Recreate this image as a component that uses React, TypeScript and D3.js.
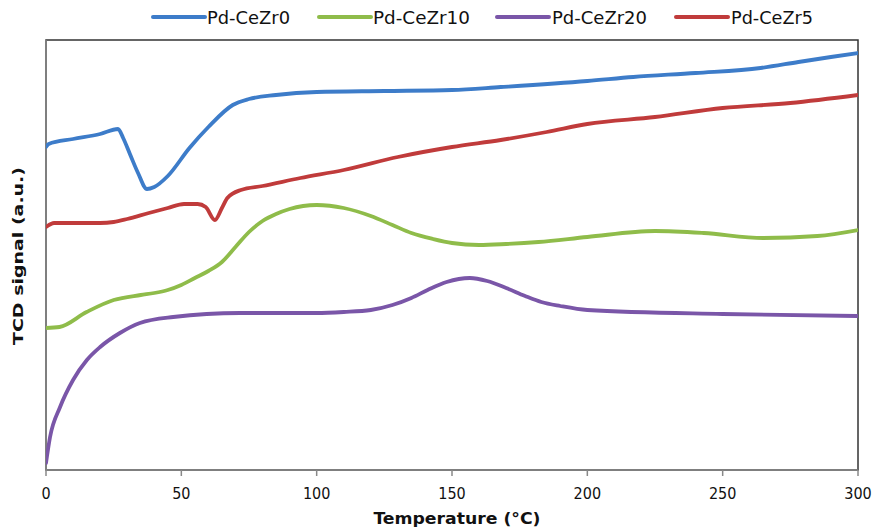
import React from "react";
import * as d3 from "d3";

const seriesNames = ["Pd-CeZr0", "Pd-CeZr10", "Pd-CeZr20", "Pd-CeZr5"];
const seriesColors = ["#3d7cc9", "#8fbc4a", "#7a56a8", "#c03b3b"];

const tempCeZr0 = [0, 1, 10, 20, 26.6, 28.5, 31, 34, 37.3, 40, 45, 53, 60, 69, 75, 85, 100, 125, 150, 168, 200, 217, 240, 264, 278, 290, 300];
const sigCeZr0 = [323, 326, 331, 336, 341, 332, 316, 297, 281, 283, 294, 322, 343, 365, 371, 375, 378, 379, 380, 383, 389, 393, 397, 402, 408, 413, 417];

const tempCeZr10 = [0, 5, 15, 25, 35, 40, 45, 50, 55, 60, 65, 70, 75, 80, 85, 90, 100, 110, 120, 128, 135, 143, 150, 160, 170, 182, 200, 225, 243, 265, 285, 300];
const sigCeZr10 = [142, 143, 158, 170, 175, 177, 180, 185, 192, 199, 208, 223, 238, 249, 256, 261, 265, 262, 254, 245, 237, 231, 227, 225, 226, 228, 233, 239, 237, 232, 234, 240];

const tempCeZr20 = [0, 1.5, 5.2, 10, 15.1, 20, 27.3, 34.7, 47, 71.7, 100, 110, 120, 128, 135, 141, 148, 156.6, 163, 170, 177, 183, 190, 200, 250, 300];
const sigCeZr20 = [7, 33, 63, 90, 110, 123, 137, 147, 153, 157, 157, 158, 160, 165, 172, 180, 188, 192, 189, 182, 174, 168, 164, 160, 156, 154];

const tempCeZr5 = [0, 3, 10, 20, 25, 30, 38, 45, 51, 56, 59, 62.4, 65, 67, 72, 80, 94, 110, 130, 150, 168, 185, 200, 225, 250, 275, 300];
const sigCeZr5 = [243, 247, 247, 247, 248, 251, 257, 262, 266, 266, 263, 250, 262, 272, 280, 284, 292, 300, 313, 323, 330, 338, 346, 353, 362, 367, 375];

const xTicks = [0, 50, 100, 150, 200, 250, 300];

const series = [
  { name: seriesNames[0], color: seriesColors[0], t: tempCeZr0, v: sigCeZr0 },
  { name: seriesNames[1], color: seriesColors[1], t: tempCeZr10, v: sigCeZr10 },
  { name: seriesNames[2], color: seriesColors[2], t: tempCeZr20, v: sigCeZr20 },
  { name: seriesNames[3], color: seriesColors[3], t: tempCeZr5, v: sigCeZr5 },
];

const W = 877, H = 529;
const L = 46, R = 858, T = 40, B = 470;

export default function App() {
  const x = d3.scaleLinear().domain([0, 300]).range([L, R]);
  const y = d3.scaleLinear().domain([0, 430]).range([B, T]);
  const line = d3
    .line<[number, number]>()
    .x((d) => x(d[0]))
    .y((d) => y(d[1]))
    .curve(d3.curveMonotoneX);
  const font = "'DejaVu Sans Condensed', 'DejaVu Sans', sans-serif";
  const legendX = [153, 319, 497, 676];
  const legendTextX = [207, 373, 552, 731];
  const legendTextW = [83, 97, 95, 82];
  return (
    <div style={{ position: "absolute", left: 0, top: 0 }}>
      <svg width={W} height={H} style={{ display: "block", background: "#fff" }}>
        <defs>
          <clipPath id="plotclip">
            <rect x={L} y={T} width={R - L} height={B - T} />
          </clipPath>
        </defs>
        <rect x={L} y={T} width={R - L} height={B - T} fill="none" stroke="#333" strokeWidth={1.5} />
        <line x1={L} x2={L} y1={T} y2={B} stroke="#888" strokeWidth={1.5} />
        <line x1={L} x2={R} y1={B} y2={B} stroke="#888" strokeWidth={1.5} />
        {xTicks.map((t) => (
          <g key={t}>
            <line x1={x(t)} x2={x(t)} y1={B} y2={B + 6} stroke="#888" strokeWidth={1.5} />
            <text x={x(t)} y={B + 29} textAnchor="middle" fontFamily={font} fontSize={16} fill="#111">
              {t}
            </text>
          </g>
        ))}
        <g clipPath="url(#plotclip)">
          {series.map((s) => (
            <path
              key={s.name}
              d={line(s.t.map((t, i) => [t, s.v[i]] as [number, number])) || ""}
              fill="none"
              stroke={s.color}
              strokeWidth={3.8}
              strokeLinejoin="round"
              strokeLinecap="round"
            />
          ))}
        </g>
        {series.map((s, i) => (
          <g key={"lg" + s.name}>
            <line x1={legendX[i]} x2={legendX[i] + 52} y1={17} y2={17} stroke={s.color} strokeWidth={4} strokeLinecap="round" />
            <text
              x={legendTextX[i]}
              y={24}
              fontFamily={font}
              fontSize={18}
              fill="#111"
              textLength={legendTextW[i]}
              lengthAdjust="spacingAndGlyphs"
            >
              {s.name}
            </text>
          </g>
        ))}
        <text
          x={(L + R) / 2 + 5}
          y={524}
          textAnchor="middle"
          fontFamily={font}
          fontWeight="bold"
          fontSize={16}
          fill="#111"
          textLength={167}
          lengthAdjust="spacingAndGlyphs"
        >
          Temperature (°C)
        </text>
        <text
          transform={`translate(23, 256) rotate(-90)`}
          textAnchor="middle"
          fontFamily="'DejaVu Sans', sans-serif"
          fontWeight="bold"
          fontSize={14}
          fill="#111"
          textLength={178}
          lengthAdjust="spacingAndGlyphs"
        >
          TCD signal (a.u.)
        </text>
      </svg>
    </div>
  );
}
